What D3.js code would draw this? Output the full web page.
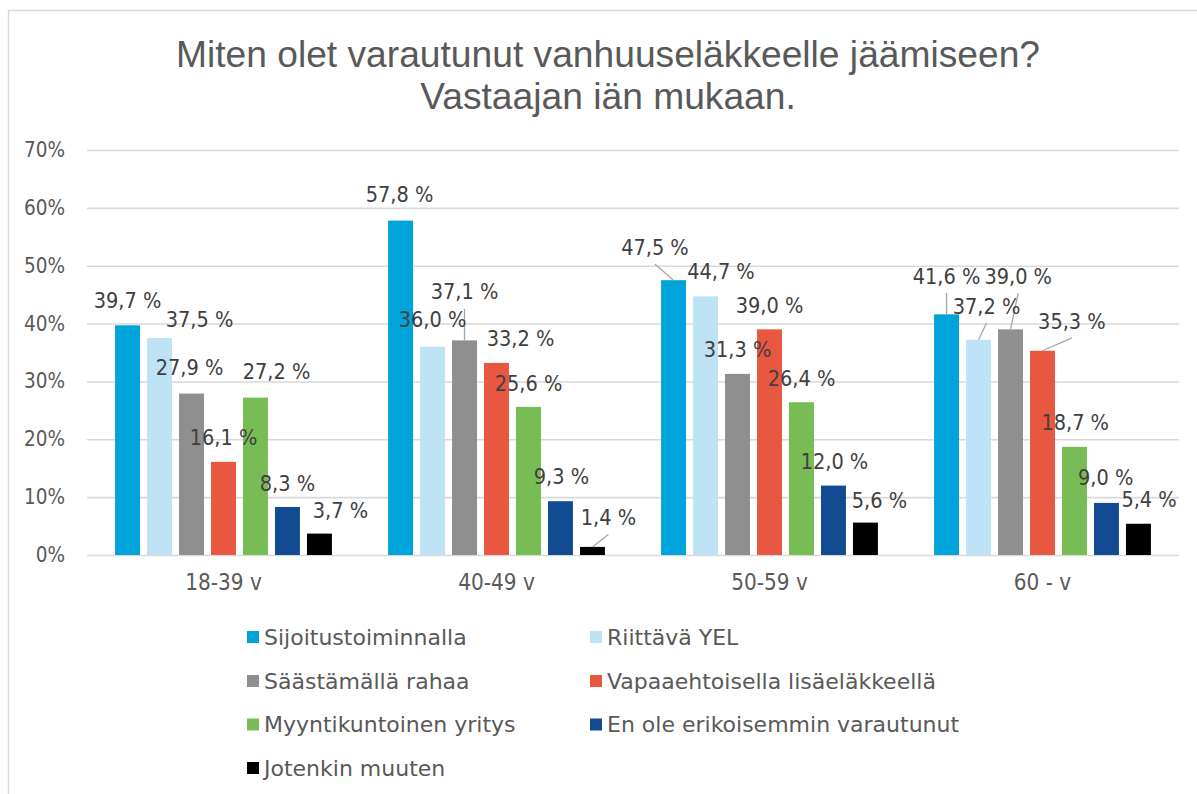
<!DOCTYPE html>
<html lang="fi">
<head>
<meta charset="utf-8">
<script src="https://cdn.jsdelivr.net/npm/d3@7"></script>
<style>
  html, body { margin: 0; padding: 0; background: #fff; }
  svg { display: block; }
  .lbl { font-family: "DejaVu Sans Condensed", "DejaVu Sans", sans-serif; font-stretch: condensed; }
  .leg { font-family: "DejaVu Sans", sans-serif; }
</style>
</head>
<body>
<svg id="chart" width="1197" height="794"></svg>
<script>
// Age groups (x-axis categories)
const ageGroups = ["18-39 v", "40-49 v", "50-59 v", "60 - v"];

// Answer options (series)
const seriesNames = [
  "Sijoitustoiminnalla",
  "Riittävä YEL",
  "Säästämällä rahaa",
  "Vapaaehtoisella lisäeläkkeellä",
  "Myyntikuntoinen yritys",
  "En ole erikoisemmin varautunut",
  "Jotenkin muuten"
];

// Share of respondents (%) per series, one value per age group
const sijoitus     = [39.7, 57.8, 47.5, 41.6];
const riittavaYel  = [37.5, 36.0, 44.7, 37.2];
const saastamalla  = [27.9, 37.1, 31.3, 39.0];
const vapaaehtois  = [16.1, 33.2, 39.0, 35.3];
const myyntikunto  = [27.2, 25.6, 26.4, 18.7];
const enOle        = [8.3, 9.3, 12.0, 9.0];
const jotenkin     = [3.7, 1.4, 5.6, 5.4];

const seriesValues = [sijoitus, riittavaYel, saastamalla, vapaaehtois, myyntikunto, enOle, jotenkin];

// Y-axis ticks
const yTicks = [0, 10, 20, 30, 40, 50, 60, 70];

const colors = ["#00A3DA", "#BEE3F6", "#8F8F8F", "#E8573F", "#78BC55", "#124B92", "#000000"];

// Hand-placed data-label nudges [dx, dy] from the top centre of each bar,
// indexed [series][group]; "lead" marks labels joined to their bar by a line.
const labelNudge = [
  [[0, -25], [-1, -26], [-18.6, -33], [0, -38.3]],
  [[40, -19], [0, -27], [15.4, -24.7], [8, -33.8]],
  [[-2, -26], [0, -48.6], [0, -25], [7.7, -53.3]],
  [[0, -25], [24, -25], [0, -24], [29.4, -29.8]],
  [[21, -26], [0, -24], [0, -24], [0.7, -24.3]],
  [[0, -24], [1, -25], [1, -24], [-0.8, -25.4]],
  [[21, -23.6], [16, -29.4], [14, -22.6], [10.6, -24.8]]
];
const lead = [
  [false, false, true, true],
  [false, false, false, true],
  [false, true, false, true],
  [false, false, false, true],
  [false, false, false, false],
  [false, false, false, false],
  [false, true, false, false]
];

const svg = d3.select("#chart");

// Chart area frame
svg.append("rect")
  .attr("x", 8.5).attr("y", 10.5)
  .attr("width", 1220).attr("height", 820)
  .attr("fill", "#fff").attr("stroke", "#d9d9d9").attr("stroke-width", 1.5);

// Title
const title = svg.append("text")
  .attr("text-anchor", "middle")
  .attr("font-family", "'Liberation Sans', Arial, sans-serif")
  .attr("font-size", 37.2)
  .attr("fill", "#595959");
title.append("tspan").attr("x", 608).attr("y", 66.5).text("Miten olet varautunut vanhuuseläkkeelle jäämiseen?");
title.append("tspan").attr("x", 608).attr("y", 108.5).text("Vastaajan iän mukaan.");

const plot = { left: 87, right: 1179, top: 150, bottom: 555 };

const y = d3.scaleLinear().domain([0, 70]).range([plot.bottom, plot.top]);

const x0 = d3.scaleBand()
  .domain(ageGroups)
  .range([plot.left, plot.right])
  .paddingInner(0.18)
  .paddingOuter(0.09);

const x1 = d3.scaleBand()
  .domain(d3.range(seriesNames.length))
  .range([0, x0.bandwidth()])
  .paddingInner(0.22)
  .paddingOuter(0.11);

// Gridlines and y-axis labels
const yAxis = d3.axisLeft(y)
  .tickValues(yTicks)
  .tickSize(-(plot.right - plot.left))
  .tickPadding(22)
  .tickFormat(d => d + "%");

const yg = svg.append("g")
  .attr("transform", `translate(${plot.left},0)`)
  .call(yAxis);
yg.select(".domain").remove();
yg.selectAll(".tick line").attr("stroke", "#d9d9d9").attr("stroke-width", 1.6);
yg.selectAll(".tick text")
  .attr("class", "lbl")
  .attr("font-size", 20.5)
  .attr("fill", "#595959");

// Category axis
const xAxis = d3.axisBottom(x0).tickSize(0).tickPadding(19);
const xg = svg.append("g")
  .attr("transform", `translate(0,${plot.bottom})`)
  .call(xAxis);
xg.select(".domain").remove();
xg.selectAll(".tick text")
  .attr("class", "lbl")
  .attr("font-size", 22.3)
  .attr("fill", "#595959");

// Bars
const rows = [];
seriesValues.forEach((vals, s) => {
  vals.forEach((v, g) => rows.push({ s, g, v }));
});

const barX = d => x0(ageGroups[d.g]) + x1(d.s);
const barCx = d => barX(d) + x1.bandwidth() / 2;

svg.append("g").selectAll("rect")
  .data(rows)
  .join("rect")
  .attr("x", barX)
  .attr("y", d => y(d.v))
  .attr("width", x1.bandwidth())
  .attr("height", d => y(0) - y(d.v))
  .attr("fill", d => colors[d.s]);

// Leader lines for displaced labels
svg.append("g").selectAll("line")
  .data(rows.filter(d => lead[d.s][d.g]))
  .join("line")
  .attr("x1", barCx)
  .attr("y1", d => y(d.v))
  .attr("x2", d => barCx(d) + labelNudge[d.s][d.g][0])
  .attr("y2", d => y(d.v) + labelNudge[d.s][d.g][1] + 17)
  .attr("stroke", "#a6a6a6")
  .attr("stroke-width", 1.3);

// Data labels
const fmt = v => v.toFixed(1).replace(".", ",") + " %";
svg.append("g").selectAll("text")
  .data(rows)
  .join("text")
  .attr("class", "lbl")
  .attr("x", d => barCx(d) + labelNudge[d.s][d.g][0])
  .attr("y", d => y(d.v) + labelNudge[d.s][d.g][1])
  .attr("dy", "0.36em")
  .attr("text-anchor", "middle")
  .attr("font-size", 21.5)
  .attr("fill", "#404040")
  .text(d => fmt(d.v));

// Legend (two columns)
const legendCols = [247, 590];
const legendRows = [637, 681, 724.5, 768];
const lg = svg.append("g").selectAll("g")
  .data(seriesNames)
  .join("g")
  .attr("transform", (d, i) => `translate(${legendCols[i % 2]},${legendRows[Math.floor(i / 2)]})`);
lg.append("rect")
  .attr("x", 0).attr("y", -6)
  .attr("width", 12).attr("height", 12)
  .attr("fill", (d, i) => colors[i]);
lg.append("text")
  .attr("class", "leg")
  .attr("x", 17)
  .attr("dy", "0.36em")
  .attr("font-size", 22)
  .attr("fill", "#595959")
  .text(d => d);
</script>
</body>
</html>
